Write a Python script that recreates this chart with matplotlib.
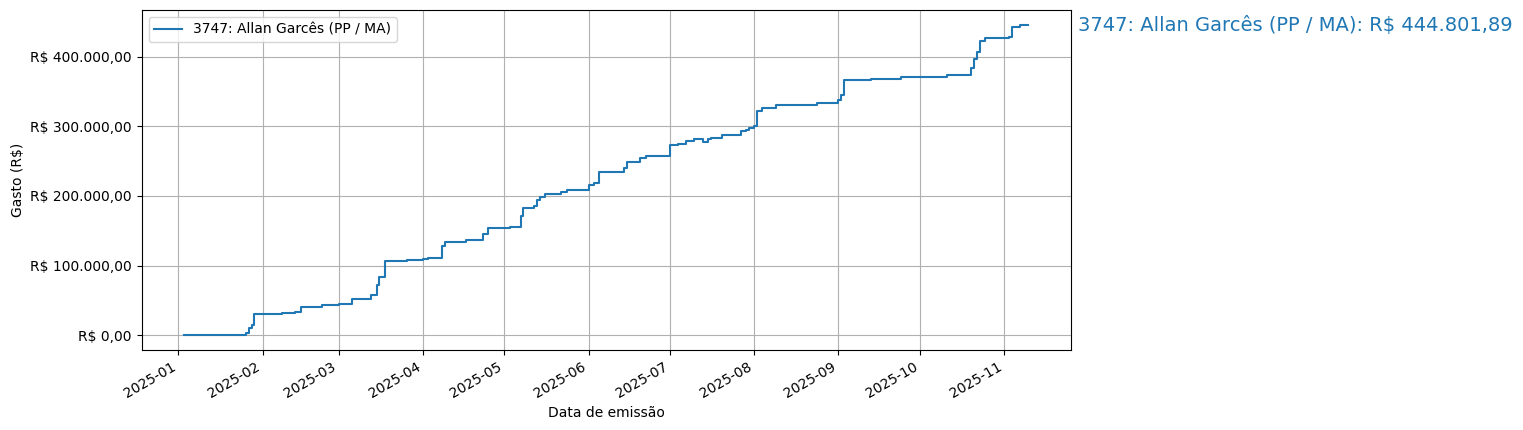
import matplotlib
matplotlib.use("Agg")
import matplotlib.pyplot as plt
import matplotlib.dates as mdates
from matplotlib.ticker import FuncFormatter
import pandas as pd

LABEL = "3747: Allan Garcês (PP / MA)"
dates = [
    "2025-01-03", "2025-01-26", "2025-01-27", "2025-01-28", "2025-01-29", "2025-02-08",
    "2025-02-13", "2025-02-15", "2025-02-23", "2025-03-01", "2025-03-06", "2025-03-13",
    "2025-03-15", "2025-03-16", "2025-03-18", "2025-03-26", "2025-04-01", "2025-04-03",
    "2025-04-08", "2025-04-09", "2025-04-17", "2025-04-23", "2025-04-25", "2025-05-03",
    "2025-05-05", "2025-05-07", "2025-05-08", "2025-05-12", "2025-05-13", "2025-05-14",
    "2025-05-16", "2025-05-22", "2025-05-24", "2025-06-01", "2025-06-03", "2025-06-05",
    "2025-06-06", "2025-06-14", "2025-06-15", "2025-06-20", "2025-06-22", "2025-06-25",
    "2025-07-01", "2025-07-04", "2025-07-07", "2025-07-10", "2025-07-13", "2025-07-15",
    "2025-07-16", "2025-07-20", "2025-07-27", "2025-07-29", "2025-07-30", "2025-08-01",
    "2025-08-02", "2025-08-04", "2025-08-09", "2025-08-24", "2025-09-01", "2025-09-02",
    "2025-09-03", "2025-09-13", "2025-09-24", "2025-10-11", "2025-10-20", "2025-10-21",
    "2025-10-22", "2025-10-23", "2025-10-25", "2025-11-03", "2025-11-04", "2025-11-07",
    "2025-11-10",
]
cumulative = [
    1000, 3000, 10000, 15000, 31000, 32000,
    34000, 41000, 43000, 45000, 52000, 58000,
    72000, 84000, 107000, 108000, 110000, 111000,
    128000, 134000, 137000, 146000, 154000, 156000,
    155000, 171000, 182000, 186000, 194000, 198000,
    203000, 205000, 208000, 215000, 218000, 234000,
    235000, 240000, 248000, 254000, 257000, 258000,
    273000, 275000, 279000, 281000, 278000, 281000,
    283000, 287000, 293000, 295000, 298000, 301000,
    322000, 326000, 331000, 334000, 337000, 345000,
    366000, 368000, 371000, 374000, 384000, 396000,
    406000, 422000, 427000, 428000, 443000, 444801.89,
    444801.89,
]
total = 444801.89


def brl(v, pos=None):
    s = f"{v:,.2f}".replace(",", "X").replace(".", ",").replace("X", ".")
    return f"R$ {s}"


x = pd.to_datetime(dates)
fig = plt.figure(figsize=(15.23, 4.3), dpi=100)
ax = fig.add_axes([0.093, 0.186, 0.610, 0.791])
ax.plot(x, cumulative, drawstyle="steps-post", color="C0", label=LABEL)
ax.yaxis.set_major_formatter(FuncFormatter(brl))
ax.xaxis.set_major_locator(mdates.MonthLocator())
ax.xaxis.set_major_formatter(mdates.DateFormatter("%Y-%m"))
for lbl in ax.get_xticklabels():
    lbl.set_rotation(30)
    lbl.set_ha("right")
ax.set_xlabel("Data de emissão")
ax.set_ylabel("Gasto (R$)")
ax.grid(True)
ax.legend(loc="upper left")
fig.text(0.708, 0.94, f"{LABEL}: {brl(total)}", color="C0", fontsize=14, va="center")
fig.savefig("out.png", dpi=100)
